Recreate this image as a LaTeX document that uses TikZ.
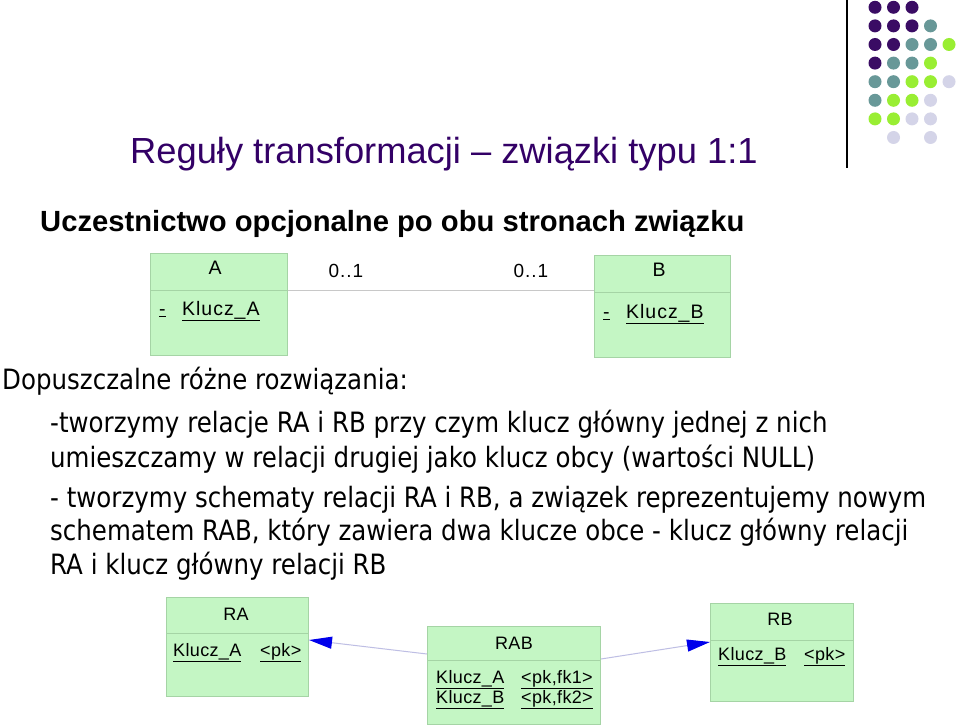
\documentclass[tikz,border=0pt]{standalone}
\usepackage{fontspec}
\setmainfont{Liberation Sans}
\newfontfamily\bodyfont{DejaVu Sans}[FakeStretch=0.875]
\newfontfamily\boxfont{Liberation Sans}[LetterSpace=5]
\newfontfamily\smallboxfont{Liberation Sans}[LetterSpace=2]
\usetikzlibrary{arrows.meta}
\definecolor{titlecol}{RGB}{51,0,102}
\definecolor{boxfill}{RGB}{196,246,196}
\definecolor{boxline}{RGB}{165,212,165}
\definecolor{assoccol}{RGB}{200,200,200}
\definecolor{fkline}{RGB}{190,190,228}
\definecolor{arrowblue}{RGB}{0,0,235}
\definecolor{dotP}{RGB}{58,12,100}
\definecolor{dotT}{RGB}{104,152,152}
\definecolor{dotL}{RGB}{153,238,51}
\definecolor{dotV}{RGB}{212,212,232}
\tikzset{
  umlbox/.style={draw=boxline, fill=boxfill, line width=1pt, inner sep=0pt, anchor=north west},
  divider/.style={draw=boxline, line width=1pt},
  boxtxt/.style={inner sep=0pt, font=\boxfont\fontsize{19.5}{22}\selectfont},
  multtxt/.style={inner sep=0pt, font=\boxfont\fontsize{19}{22}\selectfont},
  sboxtxt/.style={inner sep=0pt, font=\smallboxfont\fontsize{18}{20}\selectfont},
  bodytxt/.style={inner sep=0pt, anchor=base west, font=\bodyfont\fontsize{28}{34}\selectfont},
  assoc/.style={draw=assoccol, line width=1pt},
  fk/.style={draw=fkline, line width=1pt, -{Triangle[length=23pt,width=12pt,color=arrowblue,fill=arrowblue]}},
  dot/.style={circle, inner sep=0pt, minimum size=13pt},
}
\begin{document}
\begin{tikzpicture}[x=1pt,y=-1pt]
\useasboundingbox (0,0) rectangle (960,727);
\fill[white] (0,0) rectangle (960,727);
% decorative dots
\draw[line width=1.5pt] (847,0) -- (847,168);
\foreach \row/\cols in {0/{P,P,P,N,N},1/{P,P,P,T,N},2/{P,P,T,T,L},3/{P,T,T,L,N},4/{T,T,L,L,V},5/{T,L,L,V,N},6/{L,L,V,V,N},7/{N,V,N,V,N}}{
  \foreach \c [count=\i from 0] in \cols {
    \if\c N\else
      \node[dot, fill=dot\c] (d\row\i) at ({875+18.5*\i},{7.3+18.6*\row}) {};
    \fi
  }
}
% title
\node[inner sep=0pt, anchor=base west, text=titlecol, font=\fontsize{36.3}{40}\selectfont] (title) at (130,164) {Reguły transformacji – związki typu 1:1};
\node[inner sep=0pt, anchor=base west, font=\bfseries\fontsize{29.2}{34}\selectfont] (sub) at (40,232) {Uczestnictwo opcjonalne po obu stronach związku};
% top UML
\node[umlbox, minimum width=137pt, minimum height=102pt] (A) at (150,253) {};
\draw[divider] ([yshift=-37pt]A.north west) -- ([yshift=-37pt]A.north east);
\node[boxtxt] (Alab) at (215,268) {A};
\node[boxtxt, anchor=base west] (Adash) at (159,315) {\underline{-}};
\node[boxtxt, anchor=base west] (Akey) at (182,315) {\underline{Klucz\_A}};
\node[umlbox, minimum width=136pt, minimum height=102pt] (B) at (594,255) {};
\draw[divider] ([yshift=-37pt]B.north west) -- ([yshift=-37pt]B.north east);
\node[boxtxt] (Blab) at (659,270) {B};
\node[boxtxt, anchor=base west] (Bdash) at (603,318) {\underline{-}};
\node[boxtxt, anchor=base west] (Bkey) at (626,318) {\underline{Klucz\_B}};
\draw[assoc] ([yshift=-37pt]A.north east) -- ([yshift=-37pt]A.north east -| B.west);
\node[multtxt] (m1) at (346,271) {0..1};
\node[multtxt] (m2) at (531,271) {0..1};
% body text
\node[bodytxt] (t0) at (2,389) {Dopuszczalne różne rozwiązania:};
\node[bodytxt] (t1) at (50,432) {-tworzymy relacje RA i RB przy czym klucz główny jednej z nich};
\node[bodytxt] (t2) at (50,467) {umieszczamy w relacji drugiej jako klucz obcy (wartości NULL)};
\node[bodytxt] (t3) at (50,507) {- tworzymy schematy relacji RA i RB, a związek reprezentujemy nowym};
\node[bodytxt] (t4) at (50,540) {schematem RAB, który zawiera dwa klucze obce - klucz główny relacji};
\node[bodytxt] (t5) at (50,574) {RA i klucz główny relacji RB};
% bottom UML
\node[umlbox, minimum width=142pt, minimum height=99pt] (RA) at (166,597) {};
\draw[divider] ([yshift=-36pt]RA.north west) -- ([yshift=-36pt]RA.north east);
\node[sboxtxt] (RAlab) at (236,614) {RA};
\node[sboxtxt, anchor=base west] (RAk) at (173,656) {\underline{Klucz\_A}};
\node[sboxtxt, anchor=base west] (RApk) at (260,656) {\underline{<pk>}};
\node[umlbox, minimum width=173pt, minimum height=98pt] (RAB) at (427,626) {};
\draw[divider] ([yshift=-34pt]RAB.north west) -- ([yshift=-34pt]RAB.north east);
\node[sboxtxt] (RABlab) at (514,643) {RAB};
\node[sboxtxt, anchor=base west] (RABk1) at (436,683) {\underline{Klucz\_A}};
\node[sboxtxt, anchor=base west] (RABf1) at (521,683) {\underline{<pk,fk1>}};
\node[sboxtxt, anchor=base west] (RABk2) at (436,703) {\underline{Klucz\_B}};
\node[sboxtxt, anchor=base west] (RABf2) at (521,703) {\underline{<pk,fk2>}};
\node[umlbox, minimum width=143pt, minimum height=98pt] (RB) at (710,603) {};
\draw[divider] ([yshift=-37pt]RB.north west) -- ([yshift=-37pt]RB.north east);
\node[sboxtxt] (RBlab) at (780,619) {RB};
\node[sboxtxt, anchor=base west] (RBk) at (718,660) {\underline{Klucz\_B}};
\node[sboxtxt, anchor=base west] (RBpk) at (804,660) {\underline{<pk>}};
\draw[fk] ([yshift=-28pt]RAB.north west) -- ([yshift=-43pt]RA.north east);
\draw[fk] ([yshift=-33pt]RAB.north east) -- ([yshift=-39pt]RB.north west);
\end{tikzpicture}
\end{document}
